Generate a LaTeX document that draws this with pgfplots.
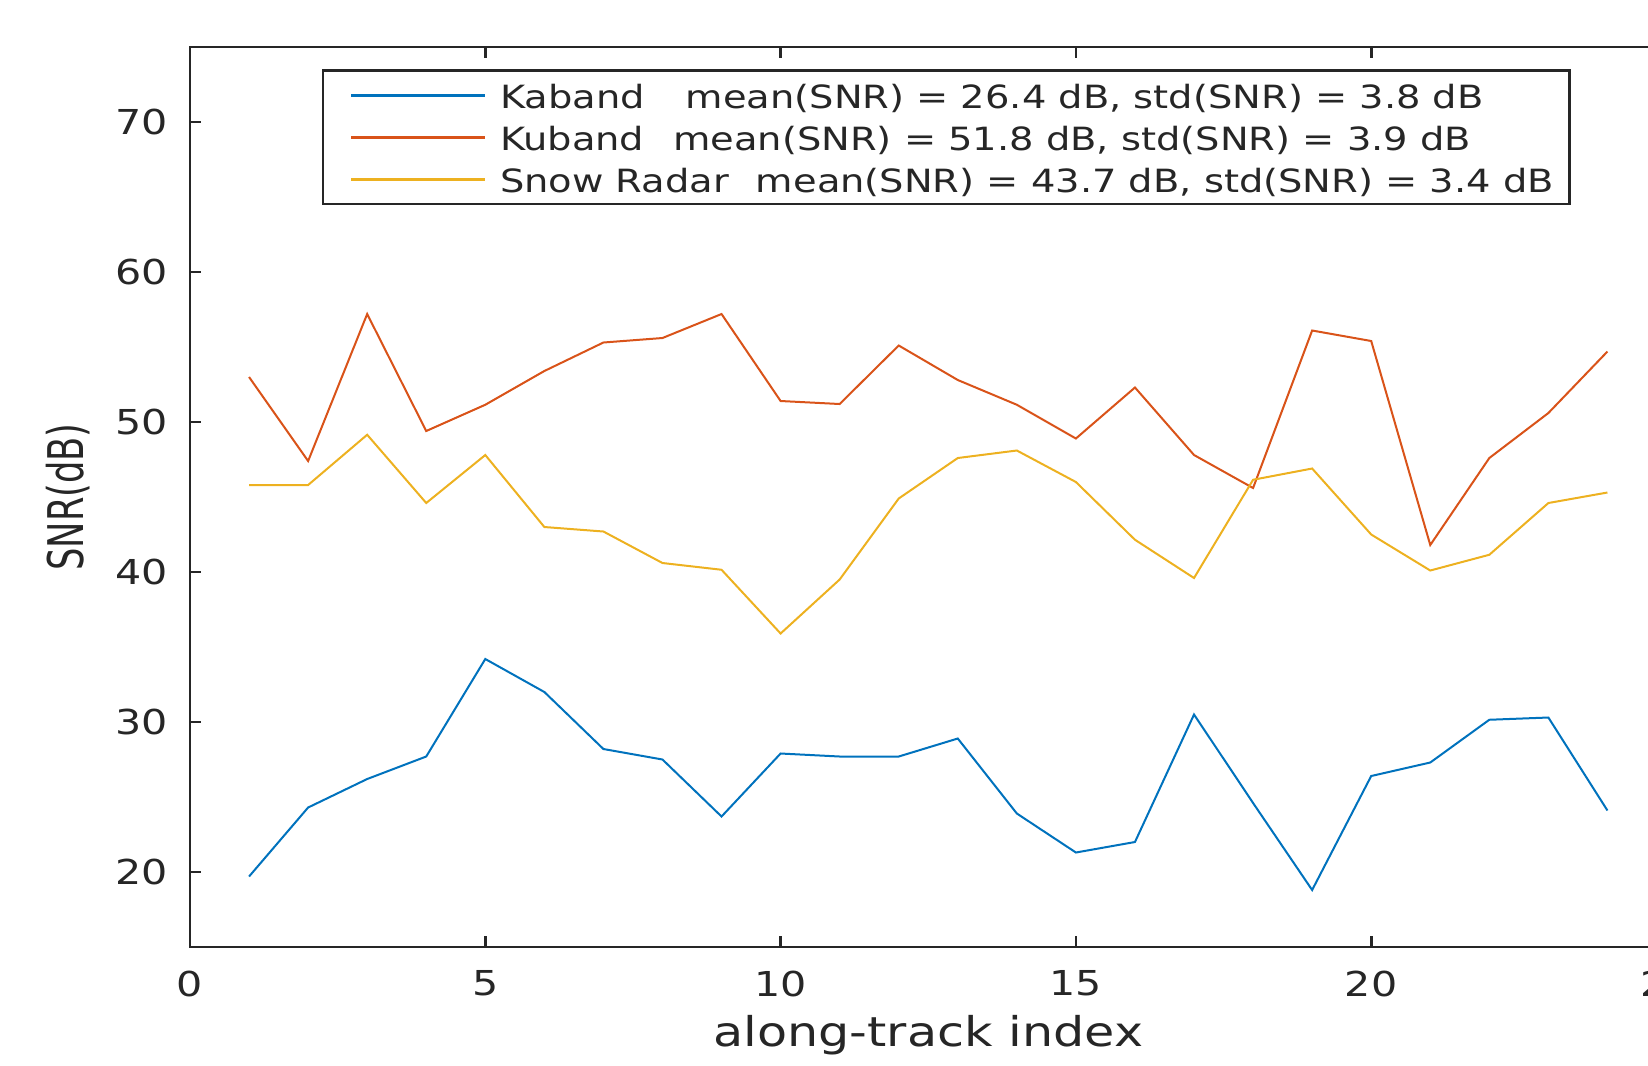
\documentclass[border=0pt]{standalone}
\usepackage{fontspec}
\setmainfont{DejaVu Sans}[FakeStretch=1.2]
\newfontfamily\labelfont{DejaVu Sans}
\usepackage{pgfplots}
\pgfplotsset{compat=1.18}

\definecolor{mblue}{rgb}{0,0.447,0.741}
\definecolor{mred}{rgb}{0.85,0.325,0.098}
\definecolor{myellow}{rgb}{0.929,0.694,0.125}
\definecolor{axgray}{rgb}{0.15,0.15,0.15}

\begin{document}
\begin{tikzpicture}
\begin{axis}[
  at={(0,0)}, anchor=south west,
  scale only axis, width=442.95pt, height=270pt,
  xmin=0, xmax=25, ymin=15, ymax=75,
  xtick={0,5,...,25}, ytick={20,30,...,70},
  tick align=inside, xtick pos=both, ytick pos=both,
  major tick length=3.3pt,
  axis line style={axgray, line width=0.8pt},
  every tick/.style={axgray, line width=0.8pt},
  /pgf/number format/assume math mode=true,
  tick label style={font=\fontsize{10.3pt}{12pt}\selectfont, text=axgray, inner sep=0pt},
  xticklabel style={anchor=north, yshift=-6.9pt},
  yticklabel style={anchor=east, xshift=-6.5pt},
  xlabel={along-track index},
  xlabel style={at={(axis description cs:0.5,-0.1108)}, anchor=base,
    font=\fontsize{12.3pt}{14pt}\selectfont, text=axgray, inner sep=0pt},
  ylabel={\scalebox{0.86}[1.2]{\labelfont\fontsize{12.3pt}{14pt}\selectfont SNR(dB)}},
  ylabel style={at={(axis description cs:-0.0823,0.5)}, anchor=center,
    text=axgray, inner sep=0pt},
  legend cell align=left,
  legend style={at={(axis description cs:0.0891,0.9751)}, anchor=north west,
    draw=axgray, line width=0.8pt, inner xsep=4.8pt, inner ysep=1.1pt,
    row sep=0pt, column sep=0pt, text=axgray,
    font=\fontsize{9.6pt}{11pt}\selectfont,
    nodes={inner sep=0pt, text height=10.3pt, text depth=2.3pt, anchor=west}},
  legend image code/.code={
    \path[draw=none] (0pt,0pt) -- (48.35pt,0pt);
    \draw[#1, line width=0.7pt] (3.7pt,0pt) -- (43.7pt,0pt);},
]
% Ka-band radar
\addplot[mblue, line width=0.6pt] coordinates {
  (1,19.7) (2,24.3) (3,26.2) (4,27.7) (5,34.2) (6,32.0) (7,28.2) (8,27.5)
  (9,23.7) (10,27.9) (11,27.7) (12,27.7) (13,28.9) (14,23.9) (15,21.3) (16,22.0)
  (17,30.5) (18,24.6) (19,18.8) (20,26.4) (21,27.3) (22,30.15) (23,30.3) (24,24.1)};
\addlegendentry{Kaband\hspace{12.3pt}mean(SNR) = 26.4 dB, std(SNR) = 3.8 dB}
% Ku-band radar
\addplot[mred, line width=0.6pt] coordinates {
  (1,53.0) (2,47.4) (3,57.2) (4,49.4) (5,51.15) (6,53.4) (7,55.3) (8,55.6)
  (9,57.2) (10,51.4) (11,51.2) (12,55.1) (13,52.8) (14,51.15) (15,48.9) (16,52.3)
  (17,47.8) (18,45.6) (19,56.1) (20,55.4) (21,41.8) (22,47.6) (23,50.6) (24,54.7)};
\addlegendentry{Kuband\hspace{8.7pt}mean(SNR) = 51.8 dB, std(SNR) = 3.9 dB}
% Snow radar
\addplot[myellow, line width=0.6pt] coordinates {
  (1,45.8) (2,45.8) (3,49.15) (4,44.6) (5,47.8) (6,43.0) (7,42.7) (8,40.6)
  (9,40.15) (10,35.9) (11,39.5) (12,44.9) (13,47.6) (14,48.1) (15,46.0) (16,42.15)
  (17,39.6) (18,46.15) (19,46.9) (20,42.5) (21,40.1) (22,41.15) (23,44.6) (24,45.3)};
\addlegendentry{Snow Radar\hspace{8.1pt}mean(SNR) = 43.7 dB, std(SNR) = 3.4 dB}
\end{axis}
% page frame: the right end of the axis runs past the edge
\pgfresetboundingbox
\path[use as bounding box] (-57pt,-35.4pt) rectangle (437.4pt,284.1pt);
\end{tikzpicture}
\end{document}
